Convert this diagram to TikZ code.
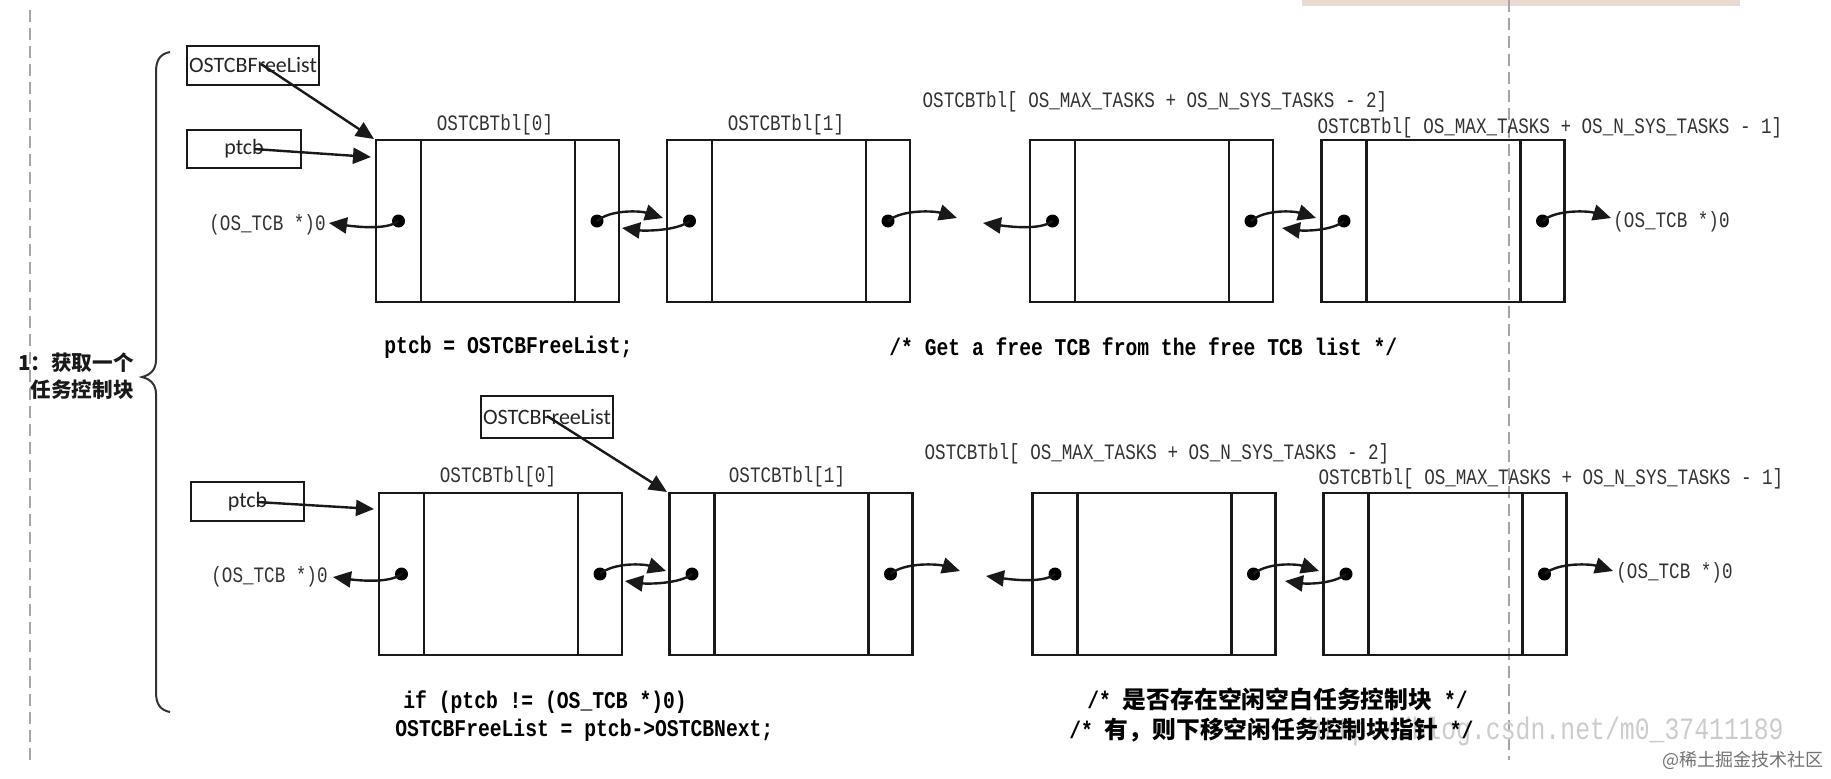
\documentclass[tikz,border=0pt]{standalone}
\usepackage{fontspec}
\usetikzlibrary{arrows.meta,calc}
\newfontfamily\lblfont[FakeStretch=0.8]{Liberation Mono}
\newfontfamily\codefont[FakeStretch=0.82]{Liberation Mono}
\newfontfamily\cjkfont{Noto Sans CJK SC}
\newfontfamily\boxfont{Carlito}
\definecolor{tanstrip}{RGB}{232,218,208}
\tikzset{
  ln/.style={line width=1.25pt, draw=black!90},
  blk/.style={draw=black!90, line width=1.3pt, minimum width=121.5pt, minimum height=81pt, inner sep=0pt, outer sep=0pt},
  dotn/.style={circle, fill=black, minimum size=6.5pt, inner sep=0pt},
  arr/.style={line width=1.2pt, draw=black!90, -{Triangle[length=9pt,width=8pt]}},
  ptrbox/.style={draw=black!90, line width=1.2pt, inner sep=0pt, font=\boxfont\fontsize{11pt}{13pt}\selectfont, text=black!85},
  lbl/.style={font=\lblfont\fontsize{11pt}{13pt}\selectfont, text=black!80, inner sep=0pt},
  code/.style={font=\codefont\bfseries\fontsize{12pt}{14pt}\selectfont, text=black, inner sep=0pt, anchor=west},
  sidelbl/.style={font=\cjkfont\bfseries\fontsize{10.3pt}{12pt}\selectfont, text=black!90, inner sep=0pt, anchor=east},
  dashln/.style={draw=black!35, line width=0.6pt, dash pattern=on 6pt off 3pt},
  bracel/.style={draw=black!80, line width=1pt},
  wmurl/.style={font=\lblfont\fontsize{15.5pt}{18pt}\selectfont, text=black!20, inner sep=0pt, anchor=west},
  wmsite/.style={font=\cjkfont\fontsize{9pt}{11pt}\selectfont, text=black!55, inner sep=0pt, anchor=east}
}
\newcommand\tcbblock[3]{%
  \node[blk] (#1) at (#2,#3) {};
  \draw[ln] ($(#1.north west)+(45,0)$) -- ($(#1.south west)+(45,0)$);
  \draw[ln] ($(#1.north east)+(-44,0)$) -- ($(#1.south east)+(-44,0)$);
  \node[dotn] (#1l) at ($(#1.west)+(22.5,0)$) {};
  \node[dotn] (#1r) at ($(#1.east)+(-22,0)$) {};
}
\newcommand\fwdptr[2]{\draw[arr] (#1.center) .. controls ($(#1.center)+(14,-12)$) and ($(#2)+(-22,-7)$) .. (#2);}
\newcommand\bwdptr[2]{\draw[arr] (#1.center) .. controls ($(#1.center)+(-12,10)$) and ($(#2)+(22,3)$) .. (#2);}
\begin{document}
\begin{tikzpicture}[x=0.5pt, y=-0.5pt]
\useasboundingbox (0,0) rectangle (1831,778);
\fill[white] (0,0) rectangle (1831,778);
\fill[tanstrip] (1302,0) rectangle (1740,6);

% dashed guide lines
\coordinate (dl1) at (30,10); \coordinate (dl2) at (30,760);
\coordinate (dr1) at (1509,0); \coordinate (dr2) at (1509,760);
\draw[dashln] (dl1) -- (dl2);
\draw[dashln] (dr1) -- (dr2);

% watermarks
\node[wmurl] (wm1) at (1307,731) {http://blog.csdn.net/m0\_37411189};
\node[wmsite] (wm2) at (1824,760) {@稀土掘金技术社区};

% brace and side label
\draw[bracel] (170,52) .. controls (160,54) and (156,60) .. (156,72) -- (156,360)
  .. controls (156,370) and (150,375) .. (142,377)
  .. controls (150,379) and (156,384) .. (156,394) -- (156,692)
  .. controls (156,704) and (160,710) .. (170,712);
\node[sidelbl] (side1) at (134,363) {1：获取一个};
\node[sidelbl] (side2) at (134,390) {任务控制块};

% ===== top row =====
\tcbblock{t0}{497.5}{221}
\tcbblock{t1}{788.5}{221}
\tcbblock{t2}{1151.5}{221}
\tcbblock{t3}{1443}{221}

\node[lbl] (tl0) at (495,125) {OSTCBTbl[0]};
\node[lbl] (tl1) at (786,125) {OSTCBTbl[1]};
\node[lbl] (tl2) at (1155,102) {OSTCBTbl[ OS\_MAX\_TASKS + OS\_N\_SYS\_TASKS - 2]};
\node[lbl] (tl3) at (1550,128) {OSTCBTbl[ OS\_MAX\_TASKS + OS\_N\_SYS\_TASKS - 1]};

\node[ptrbox, minimum width=66pt, minimum height=19.5pt] (fl1) at (253,65.5) {OSTCBFreeList};
\node[ptrbox, minimum width=57pt, minimum height=19pt] (pt1) at (244,149) {ptcb};
\coordinate (fl1s) at (261,64);
\coordinate (fl1e) at (374,139);
\coordinate (pt1s) at (254,149);
\coordinate (pt1e) at (371,157);
\draw[arr] (fl1s) -- (fl1e);
\draw[arr] (pt1s) -- (pt1e);

\node[lbl, anchor=east] (tn0) at (326,225) {(OS\_TCB *)0};
\node[lbl, anchor=west] (tn3) at (1613,222) {(OS\_TCB *)0};

\coordinate (c0n) at (329,223);
\coordinate (c01) at (663,218);
\coordinate (c10) at (622,228);
\coordinate (c12) at (957,218);
\coordinate (c21) at (983,223);
\coordinate (c23) at (1316,218);
\coordinate (c32) at (1282,228);
\coordinate (c3n) at (1611,218);
\bwdptr{t0l}{c0n}
\fwdptr{t0r}{c01}
\bwdptr{t1l}{c10}
\fwdptr{t1r}{c12}
\bwdptr{t2l}{c21}
\fwdptr{t2r}{c23}
\bwdptr{t3l}{c32}
\fwdptr{t3r}{c3n}

\node[code] (code1) at (384,347) {ptcb = OSTCBFreeList;};
\node[code] (code2) at (889,347) {/* Get a free TCB from the free TCB list */};

% ===== bottom row =====
\tcbblock{b0}{500.5}{574}
\tcbblock{b1}{791}{574}
\tcbblock{b2}{1154}{574}
\tcbblock{b3}{1445}{574}

\node[lbl] (bl0) at (498,477) {OSTCBTbl[0]};
\node[lbl] (bl1) at (787,477) {OSTCBTbl[1]};
\node[lbl] (bl2) at (1157,454) {OSTCBTbl[ OS\_MAX\_TASKS + OS\_N\_SYS\_TASKS - 2]};
\node[lbl] (bl3) at (1551,479) {OSTCBTbl[ OS\_MAX\_TASKS + OS\_N\_SYS\_TASKS - 1]};

\node[ptrbox, minimum width=66pt, minimum height=21pt] (fl2) at (547,417) {OSTCBFreeList};
\node[ptrbox, minimum width=56.5pt, minimum height=19.5pt] (pt2) at (247.5,501.5) {ptcb};
\coordinate (fl2s) at (547,416);
\coordinate (fl2e) at (667,492);
\coordinate (pt2s) at (257,502);
\coordinate (pt2e) at (374,509);
\draw[arr] (fl2s) -- (fl2e);
\draw[arr] (pt2s) -- (pt2e);

\node[lbl, anchor=east] (bn0) at (328,577) {(OS\_TCB *)0};
\node[lbl, anchor=west] (bn3) at (1616,573) {(OS\_TCB *)0};

\coordinate (d0n) at (333,577);
\coordinate (d01) at (666,571);
\coordinate (d10) at (625,581);
\coordinate (d12) at (960,571);
\coordinate (d21) at (986,576);
\coordinate (d23) at (1319,571);
\coordinate (d32) at (1285,581);
\coordinate (d3n) at (1613,571);
\bwdptr{b0l}{d0n}
\fwdptr{b0r}{d01}
\bwdptr{b1l}{d10}
\fwdptr{b1r}{d12}
\bwdptr{b2l}{d21}
\fwdptr{b2r}{d23}
\bwdptr{b3l}{d32}
\fwdptr{b3r}{d3n}

\node[code] (code3) at (403,702) {if (ptcb != (OS\_TCB *)0)};
\node[code] (code4) at (395,730) {OSTCBFreeList = ptcb->OSTCBNext;};
\node[code] (code5) at (1087,699) {/* {\cjkfont\bfseries\fontsize{11.9pt}{14pt}\selectfont 是否存在空闲空白任务控制块} */};
\node[code] (code6) at (1069,730) {/* {\cjkfont\bfseries\fontsize{11.9pt}{14pt}\selectfont 有，则下移空闲任务控制块指针} */};
\end{tikzpicture}
\end{document}
